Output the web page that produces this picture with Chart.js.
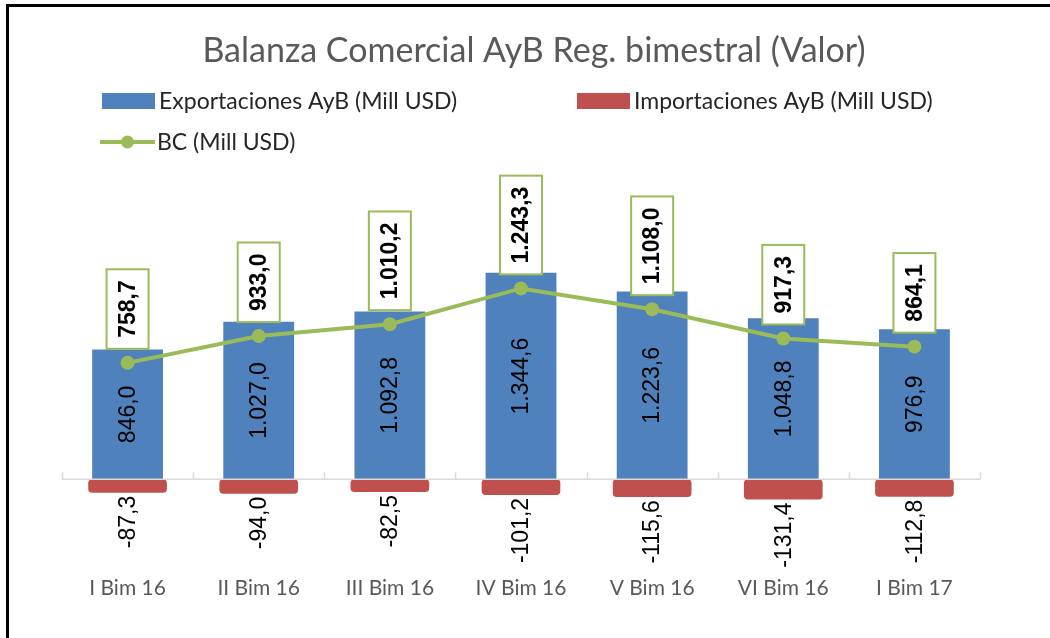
<!DOCTYPE html>
<html>
<head>
<meta charset="utf-8">
<script src="https://cdn.jsdelivr.net/npm/chart.js@4.4.1/dist/chart.umd.min.js"></script>
<style>
html, body { margin: 0; padding: 0; background: #fff; }
</style>
</head>
<body>
<canvas id="chart" width="1050" height="638"></canvas>
<script>
const categories = ["I Bim 16", "II Bim 16", "III Bim 16", "IV Bim 16", "V Bim 16", "VI Bim 16", "I Bim 17"];
const exportaciones = [846.0, 1027.0, 1092.8, 1344.6, 1223.6, 1048.8, 976.9];
const importaciones = [-87.3, -94.0, -82.5, -101.2, -115.6, -131.4, -112.8];
const balanza = [758.7, 933.0, 1010.2, 1243.3, 1108.0, 917.3, 864.1];

const titleText = "Balanza Comercial AyB Reg. bimestral (Valor)";

// 1234.5 -> "1.234,5"
function fmt(v) {
    const neg = v < 0;
    let [i, d] = Math.abs(v).toFixed(1).split(".");
    i = i.replace(/\B(?=(\d{3})+(?!\d))/g, ".");
    return (neg ? "-" : "") + i + "," + d;
}

const frameAndTitle = {
    id: "frameAndTitle",
    afterDraw: (chart) => {
        const ctx = chart.ctx;
        ctx.save();
        // cropped frame: top and left edges only
        ctx.strokeStyle = "#000";
        ctx.lineWidth = 3;
        ctx.beginPath();
        ctx.moveTo(1050, 5.5);
        ctx.lineTo(7.5, 5.5);
        ctx.lineTo(7.5, 638);
        ctx.stroke();

        ctx.fillStyle = "#595959";
        ctx.font = "34px Lato";
        ctx.textAlign = "center";
        ctx.textBaseline = "middle";
        ctx.fillText(titleText, 534, 51);

        // legend
        const ds = chart.data.datasets;
        ctx.font = "23px Lato";
        ctx.textAlign = "left";
        const items = [
            {x: 102, y: 101, i: 0},
            {x: 577, y: 101, i: 1},
            {x: 100, y: 142, i: 2},
        ];
        items.forEach(it => {
            const d = ds[it.i];
            if (d.type === "line") {
                ctx.strokeStyle = d.borderColor;
                ctx.lineWidth = 4;
                ctx.beginPath();
                ctx.moveTo(it.x, it.y);
                ctx.lineTo(it.x + 55, it.y);
                ctx.stroke();
                ctx.fillStyle = d.borderColor;
                ctx.beginPath();
                ctx.arc(it.x + 27.5, it.y, 6.5, 0, Math.PI * 2);
                ctx.fill();
            } else {
                ctx.fillStyle = d.backgroundColor;
                ctx.fillRect(it.x, it.y - 8, 53, 16);
            }
            ctx.fillStyle = "#262626";
            ctx.fillText(d.label, it.x + 57, it.y + 1);
        });
        ctx.restore();
    }
};

const axisAndLabels = {
    id: "axisAndLabels",
    afterDatasetsDraw: (chart) => {
        const ctx = chart.ctx;
        const area = chart.chartArea;
        const y0 = chart.scales.y.getPixelForValue(0);
        ctx.save();
        // zero line with small category ticks
        ctx.strokeStyle = "#D9D9D9";
        ctx.lineWidth = 1.5;
        ctx.beginPath();
        ctx.moveTo(area.left, y0);
        ctx.lineTo(area.right, y0);
        const n = categories.length;
        for (let k = 0; k <= n; k++) {
            const x = Math.round(area.left + k * (area.right - area.left) / n) + 0.5;
            ctx.moveTo(x, y0 - 7);
            ctx.lineTo(x, y0);
        }
        ctx.stroke();

        chart.data.datasets.forEach((ds, di) => {
            const meta = chart.getDatasetMeta(di);
            meta.data.forEach((el, i) => {
                const txt = fmt(ds.data[i]);
                ctx.save();
                ctx.fillStyle = "#000";
                if (ds.type === "line") {
                    ctx.font = "bold 23px 'Liberation Sans'";
                    const w = ctx.measureText(txt).width;
                    const h = w + 22;
                    ctx.translate(el.x, el.y - 14);
                    ctx.rotate(-Math.PI / 2);
                    ctx.fillStyle = "#fff";
                    ctx.fillRect(0, -21, h, 42);
                    ctx.strokeStyle = "#9BBB59";
                    ctx.lineWidth = 2;
                    ctx.strokeRect(0, -21, h, 42);
                    ctx.fillStyle = "#000";
                    ctx.textAlign = "center";
                    ctx.textBaseline = "middle";
                    ctx.fillText(txt, h / 2, 1);
                } else if (ds.data[i] >= 0) {
                    ctx.font = "23px 'Liberation Sans'";
                    ctx.translate(el.x, (el.y + el.base) / 2);
                    ctx.rotate(-Math.PI / 2);
                    ctx.textAlign = "center";
                    ctx.textBaseline = "middle";
                    ctx.fillText(txt, 0, 1);
                } else {
                    ctx.font = "23px 'Liberation Sans'";
                    ctx.translate(el.x, el.y + 3);
                    ctx.rotate(-Math.PI / 2);
                    ctx.textAlign = "right";
                    ctx.textBaseline = "middle";
                    ctx.fillText(txt, 0, 1);
                }
                ctx.restore();
            });
        });
        ctx.restore();
    }
};

new Chart(document.getElementById("chart").getContext("2d"), {
    type: "bar",
    data: {
        labels: categories,
        datasets: [
            {
                label: "Exportaciones AyB (Mill USD)",
                data: exportaciones,
                backgroundColor: "#4F81BD",
                barPercentage: 0.54,
                categoryPercentage: 1,
                grouped: false,
                order: 2,
            },
            {
                label: "Importaciones AyB (Mill USD)",
                data: importaciones,
                backgroundColor: "#C0504D",
                barPercentage: 0.6,
                categoryPercentage: 1,
                borderRadius: 4,
                borderSkipped: false,
                grouped: false,
                order: 1,
            },
            {
                type: "line",
                label: "BC (Mill USD)",
                data: balanza,
                borderColor: "#9BBB59",
                backgroundColor: "#9BBB59",
                borderWidth: 4,
                pointRadius: 7,
                pointHoverRadius: 7,
                pointBackgroundColor: "#9BBB59",
                pointBorderWidth: 0,
                tension: 0,
                order: 0,
            },
        ],
    },
    options: {
        responsive: false,
        animation: false,
        layout: {padding: {left: 62, right: 70, top: 249, bottom: 33}},
        plugins: {
            legend: {display: false},
            title: {display: false},
            tooltip: {enabled: false},
        },
        scales: {
            x: {
                grid: {display: false},
                border: {display: false},
                ticks: {font: {family: "Lato", size: 21}, color: "#595959", padding: 4},
            },
            y: {
                display: false,
                min: -550,
                max: 1500,
            },
        },
    },
    plugins: [axisAndLabels, frameAndTitle],
});
</script>
</body>
</html>
